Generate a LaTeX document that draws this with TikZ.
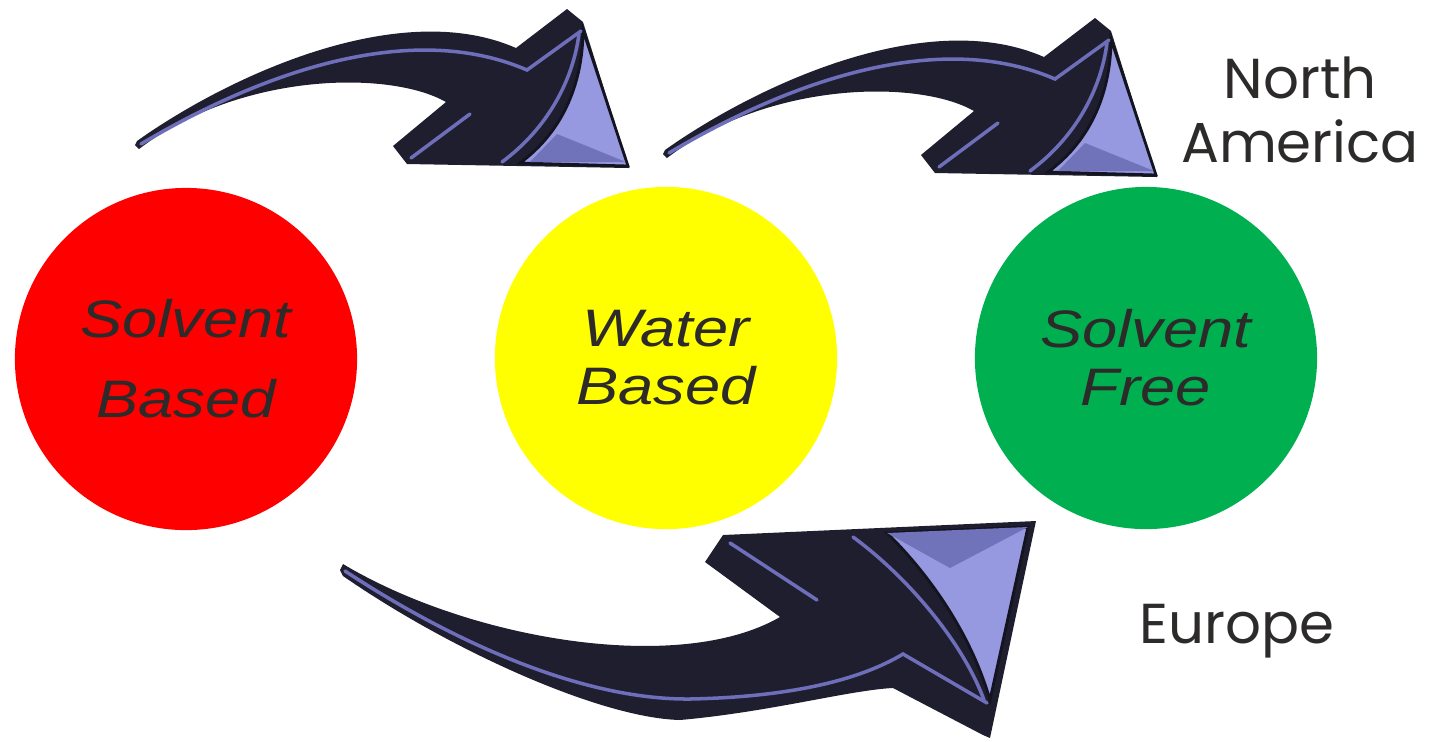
\documentclass[tikz,border=0pt]{standalone}
\usepackage{fontspec}
\newfontfamily\circfont[FakeStretch=1.2]{Liberation Sans}
\newfontfamily\tagfont{Poppins}
\definecolor{solvRed}{RGB}{255,0,0}
\definecolor{watYel}{RGB}{255,255,0}
\definecolor{freeGrn}{RGB}{0,176,80}
\definecolor{arBody}{RGB}{30,30,46}
\definecolor{arEdge}{RGB}{20,20,32}
\definecolor{arHi}{RGB}{110,110,186}
\definecolor{arFace}{RGB}{150,152,224}
\definecolor{arFaceDk}{RGB}{112,114,186}
\definecolor{txtGry}{RGB}{45,42,42}

\tikzset{
  hi/.style={draw=arHi, line width=1pt, line cap=round},
  toparrow/.pic={
    % body and head
    \fill[arBody] (137,141) .. controls (230,75) and (400,-3) .. (516,48)
      -- (567,9) -- (583,22) -- (629,168) -- (407,164) -- (393,146) -- (446,102)
      .. controls (390,70) and (240,72) .. (139,149) -- (135,145) -- cycle;
    % light face of the head
    \fill[arFace, draw=arEdge, line width=0.8pt] (583,30) -- (628,166) -- (520,163)
      .. controls (565,130) and (583,80) .. cycle;
    \fill[arFaceDk] (557,134) -- (626,162) -- (530,162) -- cycle;
    % highlights
    \draw[hi] (141,144) .. controls (240,85) and (400,15) .. (527,70) -- (581,31);
    \draw[hi] (411,158) -- (470,114);
    \draw[hi] (502,162) .. controls (548,128) and (573,80) .. (579,34);
  },
}

\begin{document}
\begin{tikzpicture}[
    x=0.01cm, y=-0.01cm,
    circ/.style={circle, draw=none, minimum size=3.42cm, inner sep=0pt,
      text=txtGry, align=center},
    lbl/.style={font=\circfont\itshape\fontsize{15}{16.5}\selectfont},
    lblwide/.style={font=\circfont\itshape\fontsize{15}{22.8}\selectfont},
    tag/.style={font=\tagfont\fontsize{16}{18.2}\selectfont, text=txtGry,
      align=center, inner sep=0pt},
  ]
  \useasboundingbox (0,0) rectangle (1432,741);

  %% ---------------- the three stages ----------------
  \node[circ, fill=solvRed, lblwide] (sb) at (186,359) {Solvent\\Based};
  \node[circ, fill=watYel, lbl] (wb) at (666,358) {Water\\Based};
  \node[circ, fill=freeGrn, lbl] (sf) at (1146,358) {Solvent\\Free};

  %% ---------------- top arrows ----------------
  \pic at (0,0) {toparrow};
  \pic at (528,9) {toparrow};

  %% ---------------- bottom arrow ----------------
  \fill[arBody] (343,564) .. controls (470,640) and (680,675) .. (780,617)
    -- (705,562) -- (723,535) -- (1036,521) -- (990,738) -- (983,735) -- (893,688)
    .. controls (850,690) and (770,712) .. (680,720)
    .. controls (600,718) and (450,650) .. (343,576) -- (340,570) -- cycle;
  \fill[arFace, draw=arEdge, line width=0.8pt] (887,533) -- (1028,527) -- (990,700)
    .. controls (970,630) and (925,570) .. cycle;
  \fill[arFaceDk] (887,533) -- (1028,527) -- (950,568) -- cycle;
  \draw[hi] (345,571) .. controls (450,640) and (580,700) .. (690,699)
    .. controls (790,697) and (860,680) .. (903,654) -- (987,703);
  \draw[hi] (730,543) -- (817,600);
  \draw[hi] (853,537) .. controls (905,575) and (962,640) .. (984,700);

  %% ---------------- regions ----------------
  \node[tag, anchor=base] (na) at (1300,162) {North\\America};
  \node[tag, anchor=base] (eu) at (1237,643) {Europe};

\end{tikzpicture}
\end{document}
